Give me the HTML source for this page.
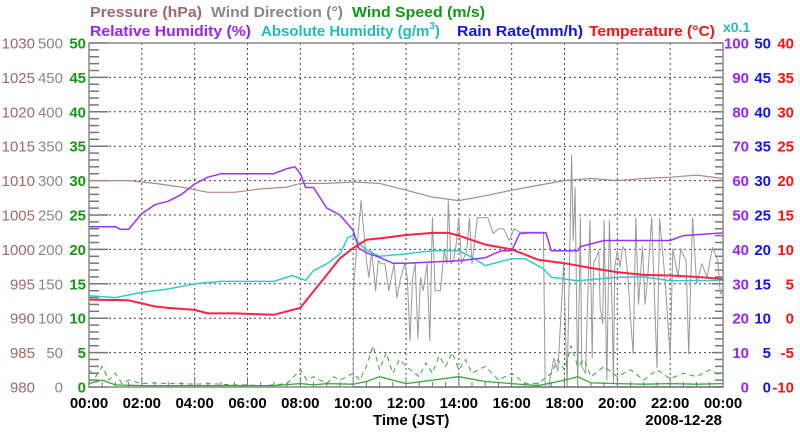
<!DOCTYPE html>
<html><head><meta charset="utf-8"><style>
html,body{margin:0;padding:0;background:#fff;}
svg{display:block;font-family:"Liberation Sans",sans-serif;}
</style></head><body>
<svg id="chart" width="800" height="434" viewBox="0 0 800 434" xmlns="http://www.w3.org/2000/svg">
<g font-size="15" font-weight="bold">
<text x="90" y="17" fill="#a06868" textLength="112" lengthAdjust="spacingAndGlyphs">Pressure (hPa)</text>
<text x="211" y="17" fill="#888" textLength="132" lengthAdjust="spacingAndGlyphs">Wind Direction (°)</text>
<text x="352" y="17" fill="#119911" textLength="133" lengthAdjust="spacingAndGlyphs">Wind Speed (m/s)</text>
<text x="90" y="36" fill="#9922ff" textLength="161" lengthAdjust="spacingAndGlyphs">Relative Humidity (%)</text>
<text x="261" y="36" fill="#22bbbb">Absolute Humidity (g/m<tspan font-size="10" dy="-7">3</tspan><tspan dy="7">)</tspan></text>
<text x="457" y="36" fill="#1111ee" textLength="126" lengthAdjust="spacingAndGlyphs">Rain Rate(mm/h)</text>
<text x="589" y="36" fill="#ff1111" textLength="126" lengthAdjust="spacingAndGlyphs">Temperature (°C)</text>
<text x="723" y="32" fill="#22bbbb" font-size="14">x0.1</text>
</g>
<g id="grid"></g>
<g id="axes"></g>
<g id="series"></g>
<rect x="89" y="43" width="634" height="344" fill="none" stroke="#888" stroke-width="1.5"/>
<text x="373" y="425" font-size="15" font-weight="bold">Time (JST)</text>
<text x="722" y="425" font-size="15" font-weight="bold" text-anchor="end">2008-12-28</text>
</svg>
<script>
var xTickLabels=["00:00","02:00","04:00","06:00","08:00","10:00","12:00","14:00","16:00","18:00","20:00","22:00","00:00"];
var pressureTicks=[980,985,990,995,1000,1005,1010,1015,1020,1025,1030];
var windDirTicks=[0,50,100,150,200,250,300,350,400,450,500];
var windSpeedTicks=[0,5,10,15,20,25,30,35,40,45,50];
var rhTicks=[0,10,20,30,40,50,60,70,80,90,100];
var rainTicks=[0,5,10,15,20,25,30,35,40,45,50];
var tempTicks=[-10,-5,0,5,10,15,20,25,30,35,40];

var pTimes=[0,1.5,2.5,3.5,4.5,5.5,6.5,7.5,8,9,10,11,12,13,14,15,16,17,18,19,20,21,22,23,24];
var pressure=[1010,1010,1009.6,1009.05,1008.3,1008.3,1008.8,1009.05,1009.6,1009.6,1009.8,1009.6,1008.6,1007.6,1007.1,1007.8,1008.6,1009.3,1010,1010.3,1010,1010.3,1010.5,1010.8,1010.3];

var rhTimes=[0,1,1.2,1.5,2,2.5,3,3.5,4,4.5,5,6,7,7.5,7.8,8,8.2,8.5,9,9.5,10,10.2,10.5,11,11.5,12,14,15,15.6,16,16.3,16.6,17.3,17.5,18.5,18.6,19.5,20.5,22,22.5,24];
var rh=[46.6,46.6,45.8,45.8,50.4,53,54,56,59,61,62,62,62,63.5,64,62,58,58,52,50,45.5,40.5,39,37.7,36,36,36.7,37.6,39.6,39.6,44.6,44.8,44.8,39.6,39.6,40.8,42.6,42.6,42.6,44,44.8];

var tTimes=[0,1.5,2.5,3,4,4.5,5.5,7,7.5,8,8.5,9,9.5,10,10.5,11,12,13,13.6,14,15,16,17,18,19,20,21,22,23,24];
var temperature=[2.7,2.6,1.7,1.5,1.2,0.7,0.7,0.5,1,1.5,3.9,6.3,8.7,10.2,11.4,11.6,12.1,12.4,12.4,12,10.7,10,8.5,8,7.3,6.7,6.3,6.2,6,5.7];

var ahTimes=[0,1,2,3,4,5,6,7,7.7,8.2,8.5,9,9.5,9.8,10,10.2,10.5,11,12,13,14,14.5,15,16,16.5,17.2,17.5,18.5,20,21,22,24];
var absHumidity=[2.65,2.6,2.75,2.85,3.0,3.07,3.07,3.07,3.24,3.1,3.38,3.58,3.87,4.35,4.4,4.2,3.98,3.8,3.87,3.96,3.96,3.77,3.53,3.73,3.73,3.44,3.19,3.09,3.19,3.2,3.09,3.1];

var wdTimes=[10,10.02,10.3,10.5,10.6,10.7,10.85,10.95,11.05,11.2,11.35,11.55,11.65,11.8,11.95,12.05,12.15,12.25,12.35,12.45,12.55,12.65,12.8,12.9,13.0,13.1,13.3,13.45,13.55,13.6,13.7,13.8,13.9,14.0,14.1,14.3,14.4,14.5,14.7,14.9,15.1,15.3,15.5,15.7,15.9,16.1,16.3,17.2,17.27,17.4,17.6,17.75,17.97,18.1,18.27,18.33,18.4,18.5,18.6,18.65,18.8,18.96,19.05,19.1,19.3,19.35,19.45,19.5,19.6,19.7,19.8,19.85,19.9,20.0,20.1,20.2,20.3,20.4,20.5,20.6,20.7,20.8,20.95,21.05,21.15,21.3,21.5,21.6,21.8,22.0,22.1,22.3,22.4,22.6,22.7,22.85,23.0,23.2,23.4,23.6,23.8,23.9,24];
var windDir=[0,150,271,184,159,198,140,184,179,179,140,179,130,159,179,159,67,159,179,71,159,140,179,67,246,140,140,198,179,271,179,184,208,246,179,198,246,179,246,246,246,223,230,230,213,230,225,225,0,0,42,23,180,0,337,213,290,0,246,30,20,242,42,180,198,115,92,242,10,242,115,5,174,198,174,204,198,160,100,48,246,120,204,120,160,246,28,245,159,42,201,159,201,184,48,246,150,179,159,203,184,135,140];

var wsTimes=[0,0.5,1,2,3,4,5,6,7,8,8.5,9,10,10.5,11,11.5,12,13,14,15,16,17,18,18.5,19,20,21,22,23,24];
var windSpeed=[0.5,1,0.3,0.2,0.2,0.2,0.2,0.2,0.2,0.5,0.3,0.5,0.4,0.8,1.5,1,0.5,1,1.5,0.8,0.5,0.2,1,1.5,0.6,0.5,0.4,0.5,0.4,0.5];

var gustTimes=[0,0.25,0.5,0.75,1,1.25,1.5,2,2.5,3,3.5,4,4.5,5,5.5,6,6.5,7,7.5,8,8.25,8.5,9,9.25,9.5,10,10.25,10.5,10.75,11,11.25,11.5,11.75,12,12.5,12.75,13,13.25,13.5,13.75,14,14.25,14.5,15,15.5,16,16.5,17,17.5,17.75,18,18.25,18.5,18.75,19,19.5,20,20.5,21,21.5,22,22.5,23,23.5,24];
var windGust=[2.5,1.5,3,1,2,0.5,1,0.5,0.6,0.5,0.5,0.4,0.5,0.4,0.3,0.3,0.2,0.3,0.5,2.5,1,1.5,0.5,1.5,1,2,1,3,6,2.5,5,2,4,3,1.5,3.5,2,4.5,3,5,2.5,4,2,3,1,2,0.5,0.5,2,4,2.5,6,3,4,1.5,3,1.5,2.5,1,2.5,1.2,2,1.5,2.5,1.5];

var rainTimes=[10,24];
var rainRate=[0,0];

var X0=89,X1=723,Y0=387,Y1=43;
function xs(h){return X0+(X1-X0)*h/24;}
function ys(v,min,max){return Y0-(Y0-Y1)*(v-min)/(max-min);}
var NS="http://www.w3.org/2000/svg";
function mk(tag,parent,attrs){var e=document.createElementNS(NS,tag);for(var k in attrs)e.setAttribute(k,attrs[k]);parent.appendChild(e);return e;}
var grid=document.getElementById('grid'),axes=document.getElementById('axes'),series=document.getElementById('series');

for(var i=1;i<12;i++){var gx=xs(i*2);
var gl=mk('line',grid,{x1:gx,x2:gx,y1:Y1,y2:Y0,stroke:'#444','stroke-dasharray':'2,3','stroke-width':1});
}
for(var j=1;j<10;j++){var gy=ys(j,0,10);
var gh=mk('line',grid,{x1:X0,x2:X1,y1:gy,y2:gy,stroke:'#444','stroke-dasharray':'2,3','stroke-width':1});
}

for(var k=0;k<=50;k++){var ty=ys(k,0,50);var maj=k%5==0;
var tl=mk('line',axes,{x1:X0,x2:X0+(maj?19:10),y1:ty,y2:ty,stroke:'#777','stroke-width':1.5});

var tr=mk('line',axes,{x1:X1,x2:X1-(maj?11:8),y1:ty,y2:ty,stroke:'#777','stroke-width':1.5});
}
for(var m=0;m<=48;m++){var tx=xs(m/2);
var tb=mk('line',axes,{x1:tx,x2:tx,y1:Y0,y2:Y0-(m%4==0?10:5),stroke:'#777','stroke-width':1});
}

function label(txt,x,y,anchor,color,bold,name){var t=mk('text',axes,{x:x,y:y,'text-anchor':anchor,fill:color,'font-size':15,'font-weight':bold?'bold':'normal'});t.textContent=txt;
}
for(var a=0;a<11;a++){var ly=ys(a,0,10)+5.5;
label(pressureTicks[a],35,ly,'end','#a06868',false,'pressure-tick-label');
label(windDirTicks[a],63,ly,'end','#888',false,'wind-direction-tick-label');
label(windSpeedTicks[a],86,ly,'end','#119911',true,'wind-speed-tick-label');
label(rhTicks[a],749,ly,'end','#9922ff',true,'rh-tick-label');
label(rainTicks[a],771,ly,'end','#1111ee',true,'rain-tick-label');
label(tempTicks[a],794,ly,'end','#ff1111',true,'temperature-tick-label');}
for(var b=0;b<xTickLabels.length;b++){
var xl=mk('text',axes,{x:xs(b*2),y:408,'text-anchor':'middle','font-size':15,'font-weight':'bold'});xl.textContent=xTickLabels[b];
}

function line(times,vals,min,max,color,w,name,dash){var d='';
for(var i=0;i<times.length;i++){d+=(i?'L':'M')+xs(times[i]).toFixed(1)+','+ys(vals[i],min,max).toFixed(1);}
var p=mk('path',series,{d:d,fill:'none',stroke:color,'stroke-width':w,'stroke-linejoin':'round'});
if(dash)p.setAttribute('stroke-dasharray',dash);
}
line(wdTimes,windDir,0,500,'#999',1,'wind-direction-line');
line(pTimes,pressure,980,1030,'#b08888',1.2,'pressure-line');
line(ahTimes,absHumidity,0,10,'#33cccc',1.5,'absolute-humidity-line');
line(rhTimes,rh,0,100,'#9933ff',1.5,'relative-humidity-line');
line(tTimes,temperature,-10,40,'#ff2244',2,'temperature-line');
line(gustTimes,windGust,0,50,'#33aa33',1,'wind-gust-line','5,4');
line(wsTimes,windSpeed,0,50,'#33aa33',1.3,'wind-speed-line');
line(rainTimes,rainRate,0,50,'#3333cc',1.5,'rain-rate-line');
</script>
</body></html>
